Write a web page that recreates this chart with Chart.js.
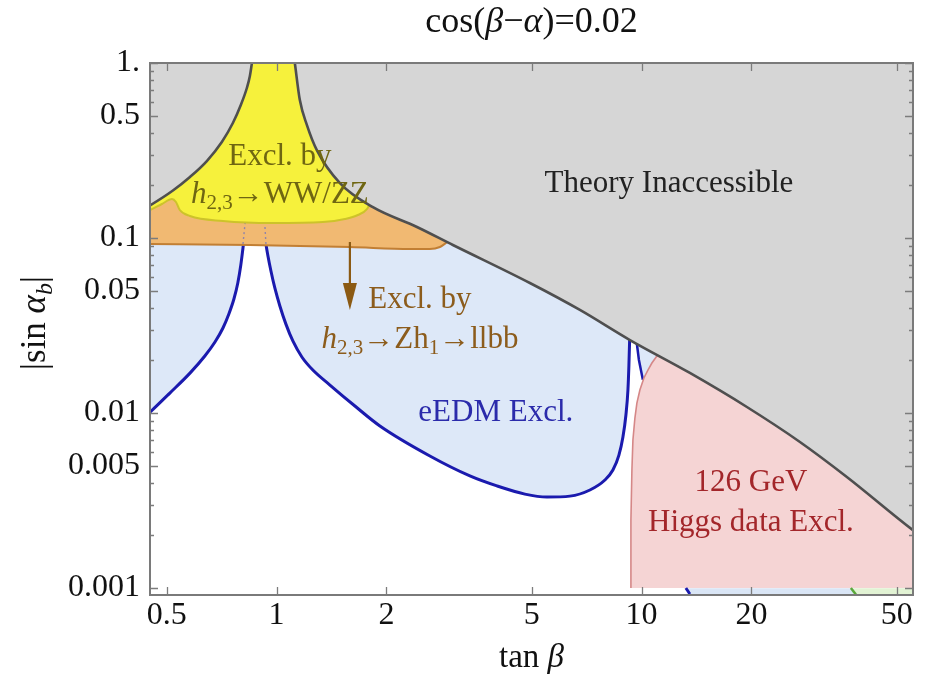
<!DOCTYPE html>
<html>
<head>
<meta charset="utf-8">
<script src="https://cdn.jsdelivr.net/npm/chart.js@4.4.1/dist/chart.umd.min.js"></script>
<style>
  html, body { margin: 0; padding: 0; background: #ffffff; }
  canvas { display: block; }
</style>
</head>
<body>
<canvas id="plot" width="929" height="683"></canvas>
<script>
const SERIF = '"Liberation Serif", "DejaVu Serif", "Times New Roman", serif';

// Axis ticks
const xTicks = [0.5, 1, 2, 5, 10, 20, 50];
const xTickLabels = ['0.5', '1', '2', '5', '10', '20', '50'];
const yTicks = [0.001, 0.005, 0.01, 0.05, 0.1, 0.5, 1];
const yTickLabels = ['0.001', '0.005', '0.01', '0.05', '0.1', '0.5', '1.'];

// Boundary of the theory-inaccessible region (two branches around tan(beta) ~ 1)
const theoryLeftTanB = [0.44, 0.45, 0.52, 0.579, 0.644, 0.708, 0.759, 0.798, 0.829, 0.845, 0.856];
const theoryLeftSin  = [0.1494, 0.1534, 0.1868, 0.2232, 0.2754, 0.3537, 0.454, 0.5754, 0.7197, 0.843, 1.0];
const theoryRightTanB = [1.122, 1.158, 1.211, 1.289, 1.491, 1.836, 2.424, 3.041, 4.943, 6.776, 9.29, 13.56, 19.43, 27.15, 36.5, 55.4, 57];
const theoryRightSin  = [1.0, 0.614, 0.442, 0.318, 0.206, 0.150, 0.1156, 0.0912, 0.0553, 0.0388, 0.0261, 0.01693, 0.01082, 0.00683, 0.00431, 0.00214, 0.00205];

// Lower edge of the h_{2,3} -> WW/ZZ exclusion
const wwzzTanB = [0.433, 0.45, 0.485, 0.517, 0.530, 0.543, 0.579, 0.713, 0.977, 1.339, 1.539, 1.670, 1.768, 1.824, 1.871];
const wwzzSin  = [0.1408, 0.1445, 0.1564, 0.1671, 0.1606, 0.1445, 0.1336, 0.1251, 0.1218, 0.1234, 0.1284, 0.1353, 0.1464, 0.1649, 0.1880];

// Lower edge of the h_{2,3} -> Z h_1 -> llbb exclusion
const llbbTanB = [0.433, 0.845, 1.588, 2.318, 2.630, 2.802, 2.910, 3.022];
const llbbSin  = [0.0924, 0.0912, 0.0888, 0.0865, 0.0865, 0.0888, 0.0936, 0.100];

// eEDM exclusion contours
const eedmLeftTanB = [0.44, 0.45, 0.51, 0.579, 0.636, 0.678, 0.713, 0.740, 0.764, 0.783, 0.798, 0.809, 0.814];
const eedmLeftSin  = [0.00968, 0.0101, 0.0130, 0.0169, 0.02117, 0.02544, 0.0306, 0.0368, 0.0448, 0.0553, 0.0701, 0.0877, 0.0974];
const eedmRightTanB = [0.932, 0.935, 0.947, 0.965, 0.989, 1.021, 1.060, 1.108, 1.173, 1.257, 1.400, 1.639, 1.919, 2.630, 3.385, 4.015, 4.789, 5.503, 6.362, 7.218, 7.935, 8.344, 8.667, 8.889, 9.058, 9.174, 9.231, 9.289];
const eedmRightSin  = [0.0974, 0.0924, 0.0789, 0.0648, 0.0518, 0.0409, 0.0323, 0.0258, 0.0209, 0.0176, 0.01445, 0.01096, 0.00843, 0.00568, 0.00437, 0.00383, 0.00344, 0.00331, 0.00335, 0.00363, 0.00414, 0.00472, 0.00575, 0.00729, 0.00974, 0.01353, 0.0188, 0.0298];
const eedmThinTanB = [9.65, 9.707, 9.832, 10.08];
const eedmThinSin  = [0.0272, 0.0248, 0.0201, 0.0155];
const eedmSliverTanB = [9.65, 9.707, 9.832, 10.08, 10.406, 10.671, 11.013, 11.223, 10.0];
const eedmSliverSin  = [0.0272, 0.0248, 0.0201, 0.0155, 0.0176, 0.0193, 0.02117, 0.02232, 0.04];

// 126 GeV Higgs data exclusion edge
const higgsTanB = [9.348, 9.348, 9.407, 9.467, 9.586, 9.707, 9.892, 10.146, 10.406, 10.671, 11.013, 11.223];
const higgsSin  = [0.001, 0.002446, 0.00472, 0.00701, 0.00936, 0.0114, 0.01353, 0.01585, 0.0176, 0.0193, 0.02117, 0.02232];

// Bands along the lower edge at large tan(beta)
const stripBlueTanB = [38.0, 13.39, 13.39, 38.0];
const stripBlueSin  = [0.000912, 0.000912, 0.000998, 0.000998];
const stripGreenTanB = [60, 38.0, 38.0, 60];
const stripGreenSin  = [0.000912, 0.000912, 0.000998, 0.000998];
const markBlueTanB = [13.22, 13.56];
const markBlueSin  = [0.001, 0.000924];
const markGreenTanB = [37.44, 38.65];
const markGreenSin  = [0.001, 0.000918];

// Arrow pointing into the llbb exclusion
const arrowShaftTanB = [1.588, 1.588];
const arrowShaftSin  = [0.095, 0.05];
const arrowHeadTanB = [1.519, 1.66, 1.588];
const arrowHeadSin  = [0.0553, 0.0553, 0.0388];

const pts = (xs, ys) => xs.map((x, i) => ({ x, y: ys[i] }));
const NONE = 'rgba(0,0,0,0)';

function region(xs, ys, color, order, fill, border, width, smooth) {
  return {
    data: pts(xs, ys), fill, order,
    backgroundColor: color,
    borderColor: border || NONE,
    borderWidth: width || 0,
    pointRadius: 0, tension: 0,
    cubicInterpolationMode: smooth ? 'monotone' : 'default'
  };
}
function curve(xs, ys, color, width, order, dash, smooth) {
  return {
    data: pts(xs, ys), fill: false, order,
    backgroundColor: NONE, borderColor: color, borderWidth: width,
    borderDash: dash || [], pointRadius: 0, tension: 0,
    cubicInterpolationMode: smooth ? 'monotone' : 'default'
  };
}

const higgsAreaTanB = [60].concat(higgsTanB, [11.6, 60]);
const higgsAreaSin  = [0.001].concat(higgsSin, [0.0245, 0.0245]);

const datasets = [
  region(stripBlueTanB, stripBlueSin, '#dae6f6', 30, 'shape'),
  region(stripGreenTanB, stripGreenSin, '#e2f3d4', 30, 'shape'),
  region(eedmLeftTanB, eedmLeftSin, '#dde8f8', 20, 'end', '#1a1aae', 3, true),
  region(eedmRightTanB, eedmRightSin, '#dde8f8', 20, 'end', '#1a1aae', 3, true),
  region(eedmSliverTanB, eedmSliverSin, '#dde8f8', 19, 'shape'),
  curve(eedmThinTanB, eedmThinSin, '#1a1aae', 2.5, 18),
  region(higgsAreaTanB, higgsAreaSin, '#f5d4d4', 17, 'shape'),
  curve(higgsTanB, higgsSin, '#d58787', 1.6, 16, null, false),
  region(llbbTanB, llbbSin, '#f1b972', 10, 'end', '#c27f34', 2, true),
  curve([0.809, 0.82], [0.0924, 0.1225], '#9285a8', 1.4, 9, [2, 3]),
  curve([0.935, 0.928], [0.0924, 0.1222], '#9285a8', 1.4, 9, [2, 3]),
  region(wwzzTanB, wwzzSin, '#f6f13c', 8, 'end', '#cdc32a', 2, true),
  curve(arrowShaftTanB, arrowShaftSin, '#8b5a14', 2.2, 7),
  region(arrowHeadTanB, arrowHeadSin, '#8b5a14', 7, 'shape'),
  region(theoryLeftTanB, theoryLeftSin, '#d6d6d6', 2, 'end', '#4f4f4f', 2.6, true),
  region(theoryRightTanB, theoryRightSin, '#d6d6d6', 2, 'end', '#4f4f4f', 2.6, true),
  curve(markBlueTanB, markBlueSin, '#1a1aae', 3, 1),
  curve(markGreenTanB, markGreenSin, '#5aa83a', 2.5, 1)
];

// Text placed in data coordinates; each line is a list of runs
const notes = [
  { color: '#222222', size: 31, lines: [
    { at: [11.88, 0.2035], runs: [{ t: 'Theory Inaccessible' }] } ] },
  { color: '#6f6612', size: 31, lines: [
    { at: [1.021, 0.2904], runs: [{ t: 'Excl. by' }] },
    { at: [1.021, 0.1761], runs: [{ t: 'h', i: 1 }, { t: '2,3', sub: 1 }, { t: '\u2192WW/ZZ' }] } ] },
  { color: '#8c5c1c', size: 31, lines: [
    { at: [2.47, 0.0442], runs: [{ t: 'Excl. by' }] },
    { at: [2.47, 0.0261], runs: [{ t: 'h', i: 1 }, { t: '2,3', sub: 1 }, { t: '\u2192Zh' }, { t: '1', sub: 1 }, { t: '\u2192llbb' }] } ] },
  { color: '#2b2bab', size: 31, lines: [
    { at: [3.986, 0.0100], runs: [{ t: 'eEDM Excl.' }] } ] },
  { color: '#a3262a', size: 31, lines: [
    { at: [19.93, 0.00398], runs: [{ t: '126 GeV' }] },
    { at: [19.93, 0.00235], runs: [{ t: 'Higgs data Excl.' }] } ] }
];

function runFont(r, size) {
  const s = r.sub ? Math.round(size * 0.68) : size;
  return (r.i ? 'italic ' : '') + s + 'px ' + SERIF;
}
function drawRuns(ctx, runs, cx, cy, size, color, angle) {
  let total = 0;
  runs.forEach(r => { ctx.font = runFont(r, size); r.w = ctx.measureText(r.t).width; total += r.w; });
  ctx.save();
  ctx.translate(cx, cy);
  if (angle) ctx.rotate(angle);
  ctx.fillStyle = color;
  ctx.textAlign = 'left';
  ctx.textBaseline = 'middle';
  let x = -total / 2;
  runs.forEach(r => {
    ctx.font = runFont(r, size);
    ctx.fillText(r.t, x, r.sub ? size * 0.28 : 0);
    x += r.w;
  });
  ctx.restore();
}

const framePlugin = {
  id: 'frame',
  afterDatasetsDraw(chart) {
    const { ctx, chartArea: a, scales: { x, y } } = chart;
    ctx.save();
    ctx.strokeStyle = '#7c7c7c';
    ctx.lineWidth = 1.3;
    ctx.beginPath();
    xTicks.forEach(v => {
      const px = Math.round(x.getPixelForValue(v)) + 0.5;
      ctx.moveTo(px, a.bottom); ctx.lineTo(px, a.bottom - 8);
      ctx.moveTo(px, a.top); ctx.lineTo(px, a.top + 8);
    });
    [0.001, 0.01, 0.1].forEach(d => {
      for (let k = 1; k <= 10; k++) {
        const v = d * k;
        if (v > 1.0001) continue;
        const major = (k === 1 || k === 5 || k === 10);
        const len = major ? 8 : 4;
        const py = Math.round(y.getPixelForValue(v)) + 0.5;
        ctx.moveTo(a.left, py); ctx.lineTo(a.left + len, py);
        ctx.moveTo(a.right, py); ctx.lineTo(a.right - len, py);
      }
    });
    ctx.stroke();
    ctx.strokeStyle = '#7a7a7a';
    ctx.lineWidth = 2;
    ctx.strokeRect(a.left, a.top, a.right - a.left, a.bottom - a.top);
    ctx.restore();
  },
  afterDraw(chart) {
    const { ctx, chartArea: a, scales: { x, y } } = chart;
    notes.forEach(n => n.lines.forEach(l => {
      drawRuns(ctx, l.runs, x.getPixelForValue(l.at[0]), y.getPixelForValue(l.at[1]), n.size, n.color, 0);
    }));
    const midX = (a.left + a.right) / 2;
    drawRuns(ctx, [{ t: 'cos(' }, { t: '\u03B2', i: 1 }, { t: '\u2212' }, { t: '\u03B1', i: 1 }, { t: ')=0.02' }],
      midX, 23, 36, '#111111', 0);
    drawRuns(ctx, [{ t: 'tan ' }, { t: '\u03B2', i: 1 }], midX, 658, 33, '#111111', 0);
    drawRuns(ctx, [{ t: '|sin ' }, { t: '\u03B1', i: 1 }, { t: 'b', i: 1, sub: 1 }, { t: '|' }],
      36, 323, 35, '#111111', -Math.PI / 2);
  }
};

const tickFont = { family: SERIF, size: 32 };

new Chart(document.getElementById('plot'), {
  type: 'line',
  data: { datasets },
  options: {
    responsive: false,
    animation: false,
    devicePixelRatio: 1,
    events: [],
    layout: { padding: { top: 63, right: 16, left: 0, bottom: 0 } },
    plugins: { legend: { display: false }, tooltip: { enabled: false }, title: { display: false } },
    scales: {
      x: {
        type: 'logarithmic', min: 0.45, max: 55.4, bounds: 'data',
        afterBuildTicks: s => { s.ticks = xTicks.map(v => ({ value: v })); },
        afterFit: s => { s.height = 88; },
        ticks: { callback: (v, i) => xTickLabels[i], autoSkip: false, maxRotation: 0, font: tickFont, color: '#111111', padding: 1 },
        grid: { display: false, drawTicks: false },
        border: { display: false }
      },
      y: {
        type: 'logarithmic', min: 0.000912, max: 1, bounds: 'data',
        afterBuildTicks: s => { s.ticks = yTicks.map(v => ({ value: v })); },
        afterFit: s => { s.width = 150; },
        ticks: { callback: (v, i) => yTickLabels[i], autoSkip: false, font: tickFont, color: '#111111', padding: 10 },
        grid: { display: false, drawTicks: false },
        border: { display: false }
      }
    }
  },
  plugins: [framePlugin]
});
</script>
</body>
</html>
